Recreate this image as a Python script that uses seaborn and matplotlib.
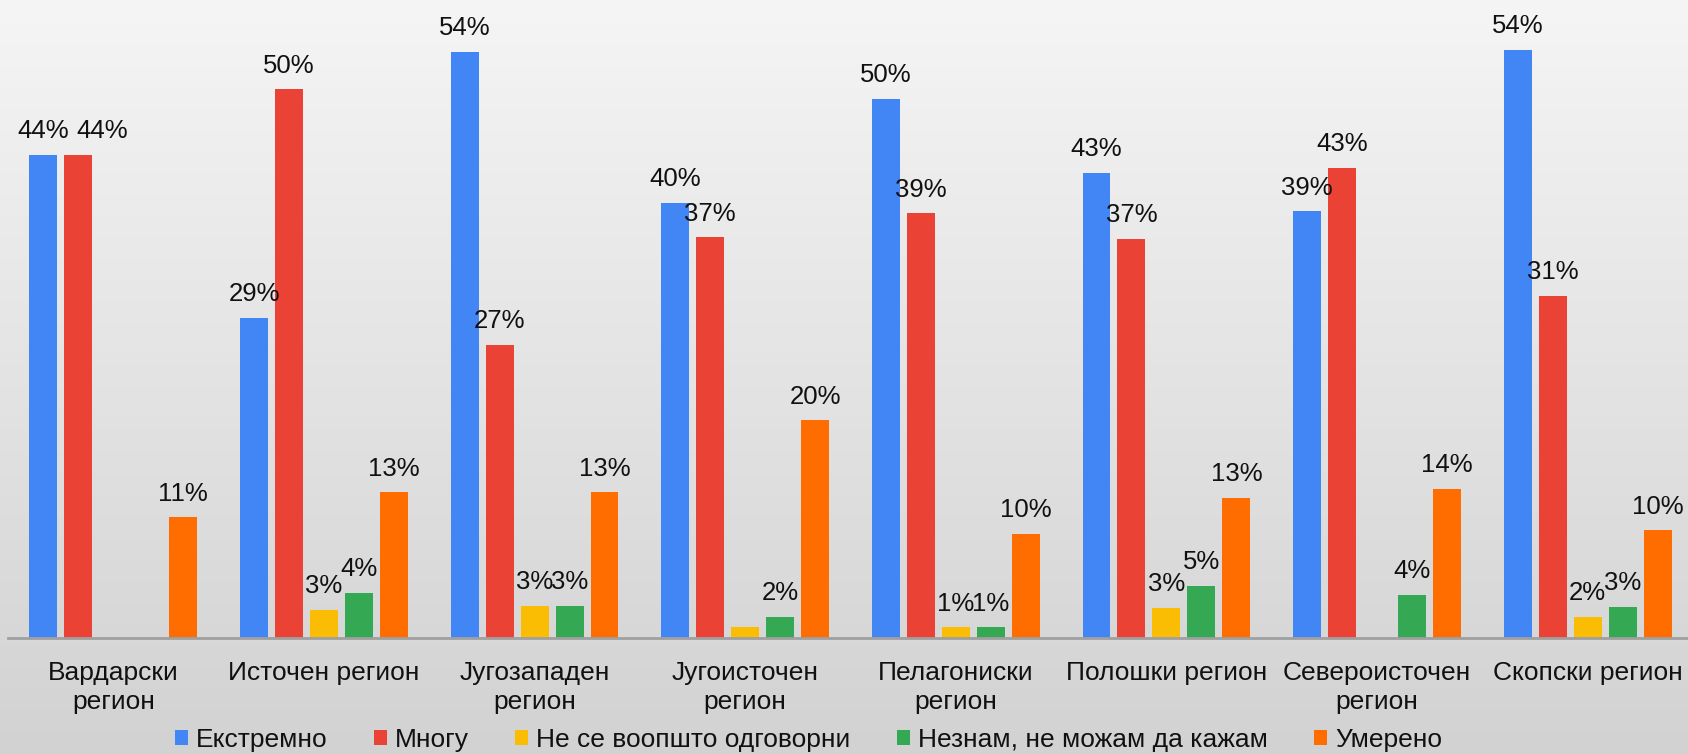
import matplotlib
matplotlib.use("Agg")
import matplotlib.pyplot as plt
import seaborn as sns
import numpy as np
import pandas as pd

# Data (percent)
regions = ["Вардарски\nрегион", "Источен регион", "Југозападен\nрегион", "Југоисточен\nрегион",
           "Пелагониски\nрегион", "Полошки регион", "Североисточен\nрегион", "Скопски регион"]
series = ["Екстремно", "Многу", "Не се воопшто одговорни", "Незнам, не можам да кажам", "Умерено"]
ekstremno = [44.4, 29.4, 53.8, 40.0, 49.5, 42.7, 39.2, 54.0]
mnogu = [44.4, 50.4, 26.9, 36.8, 39.0, 36.7, 43.2, 31.4]
ne_se = [np.nan, 2.6, 3.0, 1.0, 1.0, 2.8, np.nan, 2.0]
neznam = [np.nan, 4.2, 3.0, 2.0, 1.0, 4.8, 4.0, 2.9]
umereno = [11.1, 13.4, 13.4, 20.0, 9.6, 12.9, 13.7, 9.9]
# labels that are not shown in the reference (hidden behind neighbours)
hidden_labels = [("Не се воопшто одговорни", 3)]

colors = ["#4285F4", "#EA4335", "#FBBC04", "#34A853", "#FF6D01"]

values = [ekstremno, mnogu, ne_se, neznam, umereno]
df = pd.DataFrame({
    "region": regions * len(series),
    "series": [s for s in series for _ in regions],
    "value": [v for vals in values for v in vals],
})
df["value"] = df["value"].fillna(0)

sns.set_style("white")
plt.rcParams["font.family"] = ["Liberation Sans", "DejaVu Sans"]

fig = plt.figure(figsize=(16.88, 7.54), dpi=100)

# light gray vertical gradient behind everything
bg = fig.add_axes([0, 0, 1, 1], zorder=-1)
grad = np.linspace(0, 1, 256).reshape(-1, 1)
bg.imshow(grad, aspect="auto", cmap=matplotlib.colors.LinearSegmentedColormap.from_list(
    "bg", ["#F5F5F5", "#D2D2D2"]), extent=[0, 1, 0, 1], origin="upper")
bg.axis("off")

ax = fig.add_axes([8 / 1688, 1 - 638.3 / 754, 1685 / 1688, 638.3 / 754])
ax.patch.set_alpha(0)

sns.barplot(data=df, x="region", y="value", hue="series", hue_order=series,
            palette=colors, width=0.83, gap=0.2, saturation=1, linewidth=0,
            ax=ax, legend=True)

for s_idx, cont in enumerate(ax.containers):
    labs = []
    for r_idx, v in enumerate(values[s_idx]):
        if np.isnan(v) or (series[s_idx], r_idx) in hidden_labels:
            labs.append("")
        else:
            labs.append(f"{round(v)}%")
    texts = ax.bar_label(cont, labels=labs, padding=8.5, fontsize=18.5, color="#111111")
    if s_idx == 1:
        # the two 44% labels are pushed apart in the original
        texts[0].xyann = (17, 8.5)

ax.set_xlim(-0.5, 7.5)
ax.set_ylim(0, 58.6)
ax.set_xlabel("")
ax.set_ylabel("")
ax.set_yticks([])
for side in ["top", "right", "left"]:
    ax.spines[side].set_visible(False)
ax.spines["bottom"].set_color("#A0A0A0")
ax.spines["bottom"].set_linewidth(2)
ax.tick_params(axis="x", length=0, pad=16, labelsize=19, labelcolor="#111111")
for lab in ax.get_xticklabels():
    lab.set_linespacing(1.3)

leg = ax.legend(loc="center", bbox_to_anchor=(808.5 / 1688, (754 - 740) / 754), bbox_transform=fig.transFigure,
                ncol=5, frameon=False, fontsize=19, handlelength=0.5, handleheight=0.5,
                handletextpad=0.3, columnspacing=1.75, borderaxespad=0)
for t in leg.get_texts():
    t.set_color("#111111")

fig.savefig("out.png", dpi=100)
